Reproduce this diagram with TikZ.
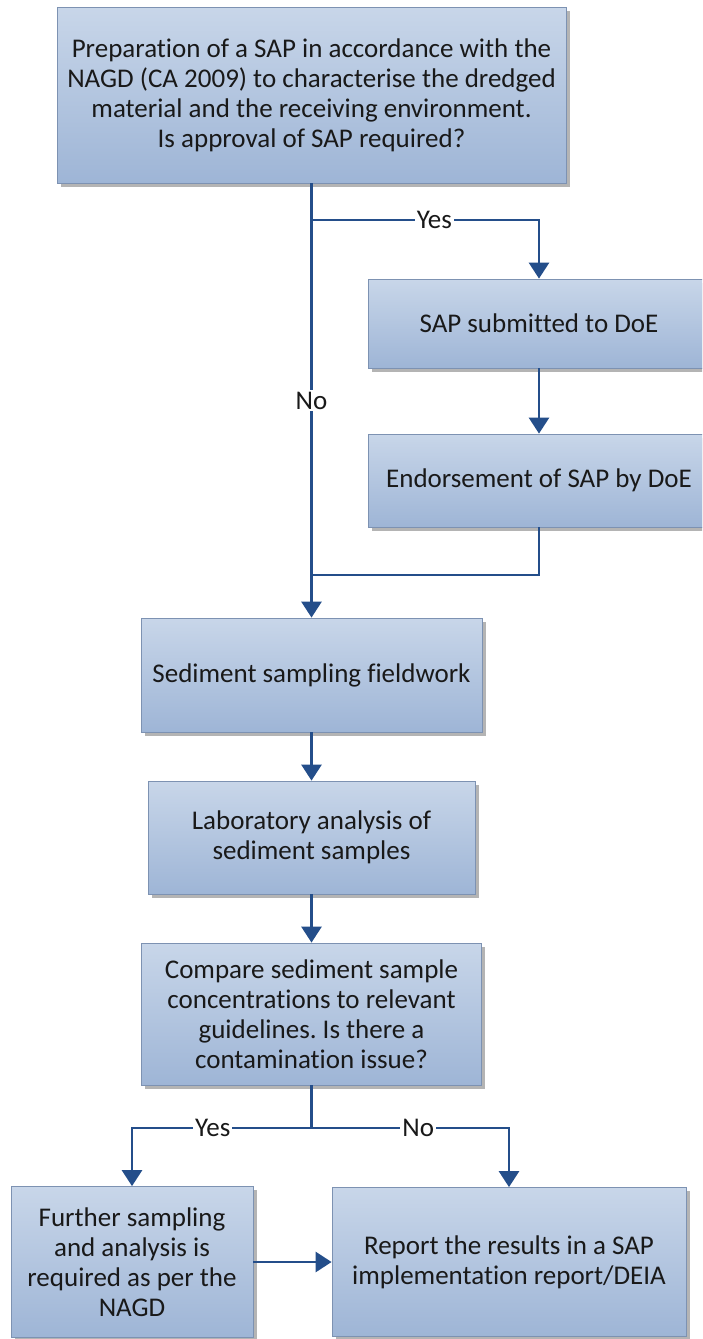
\documentclass[tikz,border=0pt]{standalone}
\usepackage{fontspec}
\setmainfont[Ligatures=NoCommon]{Carlito}
\usetikzlibrary{arrows.meta,shadows}
\frenchspacing
\definecolor{flow}{RGB}{36,78,138}
\definecolor{boxtop}{RGB}{200,214,233}
\definecolor{boxbot}{RGB}{158,181,214}
\definecolor{boxline}{RGB}{125,146,178}
\definecolor{ink}{RGB}{25,25,25}
\tikzset{
  stepbox/.style={draw=boxline, line width=0.8pt, top color=boxtop, bottom color=boxbot,
    drop shadow={shadow xshift=3.5pt, shadow yshift=-3.5pt, fill=black!45, opacity=0.65},
    text=ink, align=center, font=\fontsize{27}{30}\selectfont, inner sep=0pt},
  link/.style={draw=flow, line width=2.8pt, -{Triangle[width=20pt,length=16pt]}},
  plain/.style={draw=flow, line width=2.8pt},
  tag/.style={fill=white, text=ink, font=\fontsize{27}{30}\selectfont, inner sep=2pt}
}
\begin{document}
\begin{tikzpicture}[x=1pt,y=-1pt]
\useasboundingbox (0,0) rectangle (702,1339);
\clip (0,0) rectangle (702,1339);
\fill[white] (0,0) rectangle (702,1339);

% process boxes
\node[stepbox, minimum width=509pt, minimum height=176pt] (prep) at (311.5,95)
  {Preparation of a SAP in accordance with the\\NAGD (CA 2009) to characterise the dredged\\material and the receiving environment.\\Is approval of SAP required?};
\node[stepbox, minimum width=342pt, minimum height=89pt] (submit) at (539,323.5) {SAP submitted to DoE};
\node[stepbox, minimum width=341pt, minimum height=93pt] (endorse) at (539,480.5) {Endorsement of SAP by DoE};
\node[stepbox, minimum width=341pt, minimum height=114pt] (field) at (311.5,675) {Sediment sampling fieldwork};
\node[stepbox, minimum width=327pt, minimum height=113pt] (lab) at (311.5,837.5) {Laboratory analysis of\\sediment samples};
\node[stepbox, minimum width=340pt, minimum height=142pt] (compare) at (311.5,1014)
  {Compare sediment sample\\concentrations to relevant\\guidelines. Is there a\\contamination issue?};
\node[stepbox, minimum width=242pt, minimum height=151pt] (further) at (132,1262)
  {Further sampling\\and analysis is\\required as per the\\NAGD};
\node[stepbox, minimum width=354pt, minimum height=149pt] (report) at (509,1262)
  {Report the results in a SAP\\implementation report/DEIA};

% junction points
\coordinate (split) at (311.5,220);
\coordinate (merge) at (311.5,575);
\coordinate (fork) at (311.5,1128);

% upper part: approval of the SAP
\draw[link] (prep.south) -- node[tag, pos=0.5] {No} (field.north);
\draw[link] (split) -| node[tag, pos=0.27] {Yes} (submit.north);
\draw[link] (submit) -- (endorse);
\draw[plain] (endorse.south) |- (merge);

% sampling and analysis
\draw[link] (field) -- (lab);
\draw[link] (lab) -- (compare);

% contamination decision
\draw[plain] (compare.south) -- (fork);
\draw[link] (fork) -| node[tag, pos=0.275] {Yes} (further.north);
\draw[link] (fork) -| node[tag, pos=0.27] {No} (report.north);
\draw[link] (further) -- (report);
\end{tikzpicture}
\end{document}
